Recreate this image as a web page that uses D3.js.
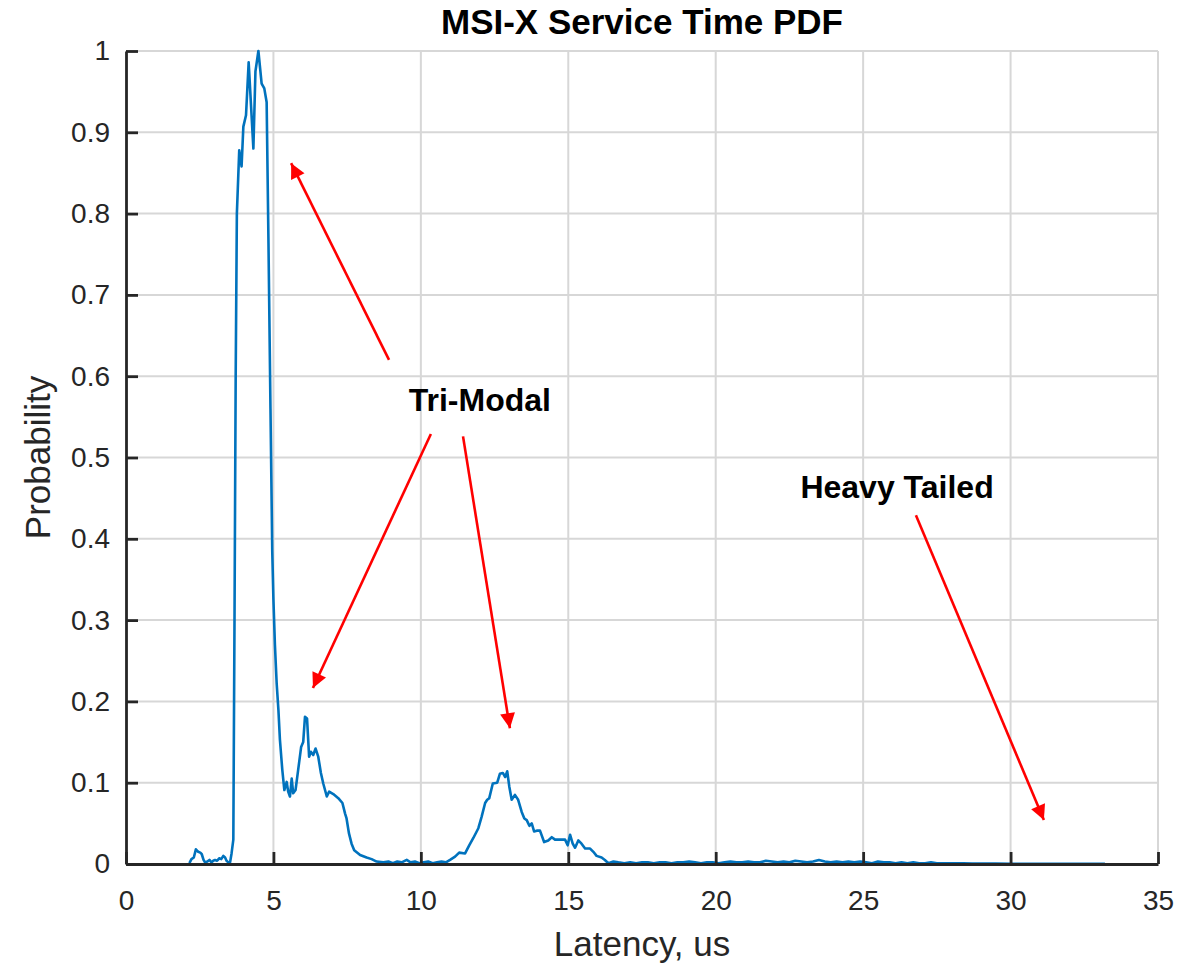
<!DOCTYPE html>
<html>
<head>
<meta charset="utf-8">
<script src="https://cdn.jsdelivr.net/npm/d3@7"></script>
<style>
  body { margin: 0; background: #fff; }
  text { font-family: "Liberation Sans", Arial, Helvetica, sans-serif; fill: #262626; }
</style>
</head>
<body>
<div id="chart"></div>
<script>
// service time samples (us) and estimated probability density
const latency = [
  2.15, 2.22, 2.30, 2.37, 2.45, 2.52, 2.57, 2.63, 2.68, 2.76, 2.83, 2.90, 2.96, 3.02, 3.09, 3.16,
  3.23, 3.30, 3.36, 3.41, 3.47, 3.53, 3.58, 3.64, 3.68, 3.72, 3.76, 3.84, 3.92, 3.98, 4.07, 4.16,
  4.32, 4.39, 4.49, 4.60, 4.69, 4.77, 4.83, 4.90, 4.96, 5.00, 5.05, 5.11, 5.17, 5.22, 5.30, 5.37,
  5.45, 5.50, 5.56, 5.62, 5.67, 5.75, 5.84, 5.94, 6.01, 6.07, 6.14, 6.21, 6.27, 6.35, 6.43, 6.52,
  6.61, 6.69, 6.81, 6.89, 7.03, 7.20, 7.34, 7.43, 7.48, 7.56, 7.65, 7.74, 7.94, 8.16, 8.33, 8.50,
  8.73, 8.90, 9.05, 9.20, 9.35, 9.52, 9.65, 9.80, 9.95, 10.10, 10.25, 10.40, 10.55, 10.70, 10.85, 10.99,
  11.16, 11.30, 11.50, 11.64, 11.78, 11.95, 12.06, 12.18, 12.25, 12.32, 12.44, 12.59, 12.68, 12.78, 12.86, 12.93,
  13.00, 13.08, 13.19, 13.30, 13.42, 13.51, 13.59, 13.68, 13.76, 13.84, 13.93, 14.04, 14.18, 14.32, 14.44, 14.55,
  14.72, 14.89, 14.98, 15.06, 15.15, 15.23, 15.34, 15.45, 15.57, 15.74, 15.85, 15.96, 16.13, 16.24, 16.36, 16.53,
  16.7, 16.9, 17.1, 17.3, 17.5, 17.7, 17.9, 18.1, 18.3, 18.5, 18.7, 18.9, 19.1, 19.3, 19.5, 19.7,
  19.9, 20.1, 20.3, 20.5, 20.7, 20.9, 21.1, 21.3, 21.5, 21.7, 21.9, 22.1, 22.3, 22.5, 22.7, 22.9,
  23.1, 23.3, 23.5, 23.7, 23.9, 24.1, 24.3, 24.5, 24.7, 24.9, 25.1, 25.3, 25.5, 25.7, 25.9, 26.1,
  26.3, 26.5, 26.7, 26.9, 27.1, 27.3, 27.5, 27.8, 28.1, 28.4, 28.7, 29.0, 29.5, 30.0, 30.5, 31.0,
  31.5, 32.0, 32.5, 33.2
]
const probability = [
  0.001, 0.006, 0.008, 0.018, 0.015, 0.014, 0.012, 0.005, 0.002, 0.003, 0.005, 0.002, 0.004, 0.005, 0.004, 0.007,
  0.006, 0.010, 0.008, 0.004, 0.002, 0.002, 0.013, 0.030, 0.300, 0.600, 0.800, 0.878, 0.858, 0.907, 0.921, 0.986,
  0.880, 0.975, 1.000, 0.960, 0.954, 0.937, 0.770, 0.560, 0.385, 0.325, 0.270, 0.222, 0.189, 0.153, 0.116, 0.091,
  0.101, 0.089, 0.083, 0.105, 0.087, 0.091, 0.116, 0.144, 0.150, 0.181, 0.179, 0.132, 0.138, 0.134, 0.142, 0.132,
  0.112, 0.099, 0.083, 0.089, 0.086, 0.081, 0.075, 0.062, 0.056, 0.038, 0.025, 0.017, 0.011, 0.008, 0.006, 0.003,
  0.002, 0.003, 0.001, 0.003, 0.002, 0.005, 0.002, 0.003, 0.001, 0.002, 0.003, 0.001, 0.002, 0.003, 0.002, 0.005,
  0.009, 0.014, 0.013, 0.023, 0.032, 0.044, 0.058, 0.075, 0.079, 0.081, 0.099, 0.100, 0.111, 0.112, 0.107, 0.114,
  0.095, 0.079, 0.085, 0.079, 0.064, 0.056, 0.054, 0.047, 0.050, 0.040, 0.041, 0.041, 0.027, 0.029, 0.033, 0.030,
  0.030, 0.030, 0.023, 0.036, 0.025, 0.020, 0.029, 0.025, 0.019, 0.019, 0.015, 0.010, 0.008, 0.005, 0.001, 0.003,
  0.002, 0.001, 0.002, 0.001, 0.002, 0.002, 0.001, 0.002, 0.002, 0.001, 0.002, 0.002, 0.003, 0.002, 0.001, 0.002,
  0.002, 0.001, 0.002, 0.003, 0.002, 0.002, 0.003, 0.002, 0.002, 0.004, 0.003, 0.002, 0.003, 0.002, 0.004, 0.003,
  0.002, 0.003, 0.005, 0.003, 0.002, 0.003, 0.002, 0.003, 0.002, 0.003, 0.002, 0.001, 0.003, 0.002, 0.002, 0.001,
  0.002, 0.001, 0.002, 0.001, 0.001, 0.002, 0.001, 0.001, 0.001, 0.001, 0.0005, 0.0005, 0.0005, 0.0003, 0.0003, 0.0003,
  0.0002, 0.0002, 0.0002, 0.0002
]

const xTicks = [0, 5, 10, 15, 20, 25, 30, 35]
const yTicks = [0, 0.1, 0.2, 0.3, 0.4, 0.5, 0.6, 0.7, 0.8, 0.9, 1]

// annotations in data units: label text and arrows [x1, y1, x2, y2]
const labels = [
  { text: 'Tri-Modal', x: 12.0, y: 0.571 },
  { text: 'Heavy Tailed', x: 26.15, y: 0.464 },
]
const arrows = [
  [8.92, 0.620, 5.60, 0.862],
  [10.34, 0.529, 6.34, 0.2165],
  [11.43, 0.526, 13.02, 0.167],
  [26.79, 0.429, 31.13, 0.054],
]

const width = 1202
const height = 964
const margin = { top: 51, right: 44, bottom: 100, left: 126 }
const axisColor = '#262626'
const gridColor = '#d7d7d7'
const lineColor = '#0072bd'

const svg = d3.select('#chart').append('svg')
  .attr('width', width)
  .attr('height', height)

const x = d3.scaleLinear().domain([0, 35]).range([margin.left, width - margin.right])
const y = d3.scaleLinear().domain([0, 1]).range([height - margin.bottom, margin.top])

// grid
svg.append('g')
  .selectAll('line')
  .data(xTicks.slice(1))
  .join('line')
  .attr('x1', d => x(d)).attr('x2', d => x(d))
  .attr('y1', y(0)).attr('y2', y(1))
  .attr('stroke', gridColor).attr('stroke-width', 2)

svg.append('g')
  .selectAll('line')
  .data(yTicks.slice(1))
  .join('line')
  .attr('x1', x(0)).attr('x2', x(35))
  .attr('y1', d => y(d)).attr('y2', d => y(d))
  .attr('stroke', gridColor).attr('stroke-width', 2)

// data line
const points = latency.map((l, i) => ({ l, p: probability[i] }))
svg.append('path')
  .datum(points)
  .attr('fill', 'none')
  .attr('stroke', lineColor)
  .attr('stroke-width', 2.6)
  .attr('stroke-linejoin', 'round')
  .attr('d', d3.line().x(d => x(d.l)).y(d => y(d.p)))

// axes, ticks pointing inward
const xAxis = svg.append('g')
  .attr('transform', `translate(0,${y(0)})`)
  .call(d3.axisBottom(x).tickValues(xTicks).tickSizeInner(-12).tickSizeOuter(0).tickPadding(26))
const yAxis = svg.append('g')
  .attr('transform', `translate(${x(0)},0)`)
  .call(d3.axisLeft(y).tickValues(yTicks).tickSizeInner(-12).tickSizeOuter(0).tickPadding(16).tickFormat(d3.format('~g')))

;[xAxis, yAxis].forEach(g => {
  g.select('.domain').attr('stroke', axisColor).attr('stroke-width', 2.8)
  g.selectAll('.tick line').attr('stroke', axisColor).attr('stroke-width', 2.8)
  g.selectAll('.tick text')
    .attr('fill', axisColor)
    .style('font-size', '28px')
    .style('font-family', '"Liberation Sans", Arial, sans-serif')
})

// titles
svg.append('text')
  .attr('x', (x(0) + x(35)) / 2).attr('y', 34)
  .attr('text-anchor', 'middle')
  .style('font-size', '35px').style('font-weight', 'bold')
  .style('fill', '#000')
  .text('MSI-X Service Time PDF')

svg.append('text')
  .attr('x', (x(0) + x(35)) / 2).attr('y', 956)
  .attr('text-anchor', 'middle')
  .style('font-size', '35px')
  .text('Latency, us')

svg.append('text')
  .attr('transform', `translate(50,${(y(0) + y(1)) / 2}) rotate(-90)`)
  .attr('text-anchor', 'middle')
  .style('font-size', '35px')
  .text('Probability')

// annotations
svg.append('defs').append('marker')
  .attr('id', 'head')
  .attr('viewBox', '0 -5 10 10')
  .attr('refX', 10)
  .attr('markerUnits', 'userSpaceOnUse')
  .attr('markerWidth', 17)
  .attr('markerHeight', 15)
  .attr('orient', 'auto')
  .append('path')
  .attr('d', 'M0,-5L10,0L0,5Z')
  .attr('fill', '#ff0000')

svg.append('g')
  .selectAll('line')
  .data(arrows)
  .join('line')
  .attr('x1', d => x(d[0])).attr('y1', d => y(d[1]))
  .attr('x2', d => x(d[2])).attr('y2', d => y(d[3]))
  .attr('stroke', '#ff0000').attr('stroke-width', 2.6)
  .attr('marker-end', 'url(#head)')

svg.append('g')
  .selectAll('text')
  .data(labels)
  .join('text')
  .attr('x', d => x(d.x)).attr('y', d => y(d.y))
  .attr('text-anchor', 'middle')
  .attr('dominant-baseline', 'central')
  .style('font-size', '32px').style('font-weight', 'bold')
  .style('fill', '#000')
  .text(d => d.text)
</script>
</body>
</html>
